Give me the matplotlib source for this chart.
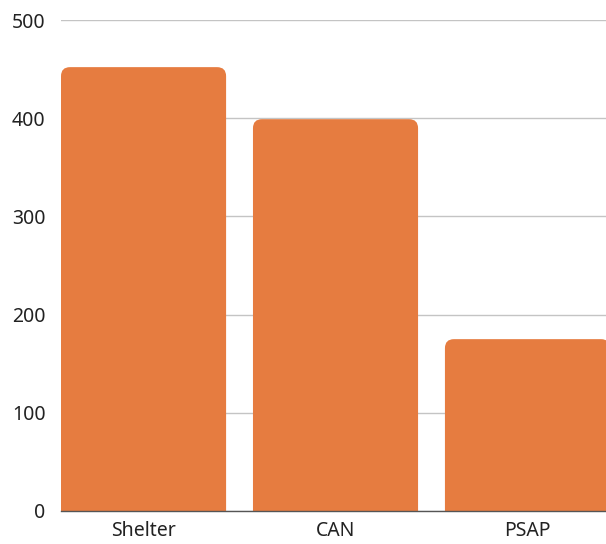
import matplotlib.pyplot as plt
from matplotlib.patches import FancyBboxPatch

categories = ["Shelter", "CAN", "PSAP"]
values = [452, 399, 175]

plt.rcParams['font.family'] = ['Noto Sans', 'DejaVu Sans']

fig = plt.figure(figsize=(6.06, 5.44), dpi=100)
ax = fig.add_axes([61 / 606, 33 / 544, 545 / 606, 491 / 544])

x_min, x_max = -0.43, 2.409
y_min, y_max = 0, 500
ax.set_xlim(x_min, x_max)
ax.set_ylim(y_min, y_max)

# pixel sizes of one data unit, for the rounded corners
px_x = 545 / (x_max - x_min)
px_y = 491 / (y_max - y_min)
radius_px = 9
rx = radius_px / px_x
aspect = px_x / px_y

width = 0.86
color = "#E67C40"
for i, v in enumerate(values):
    ry = radius_px / px_y
    box = FancyBboxPatch((i - width / 2, -2 * ry), width, v + 2 * ry,
                         boxstyle=f"round,pad=0,rounding_size={rx}",
                         mutation_aspect=aspect, facecolor=color,
                         edgecolor="none", zorder=2)
    ax.add_patch(box)

ax.set_xticks(range(len(categories)))
ax.set_xticklabels(categories)
ax.set_yticks([0, 100, 200, 300, 400, 500])
ax.grid(axis="y", color="#C4C4C4", linewidth=1)
ax.set_axisbelow(True)
for s in ["top", "right", "left"]:
    ax.spines[s].set_visible(False)
ax.spines["bottom"].set_color("#555555")
ax.spines["bottom"].set_linewidth(1)
ax.spines["bottom"].set_zorder(3)
ax.tick_params(axis="both", length=0, colors="#222222")
ax.tick_params(axis="y", labelsize=14, pad=11)
ax.tick_params(axis="x", labelsize=14, pad=7)

fig.savefig("out.png", dpi=100)
